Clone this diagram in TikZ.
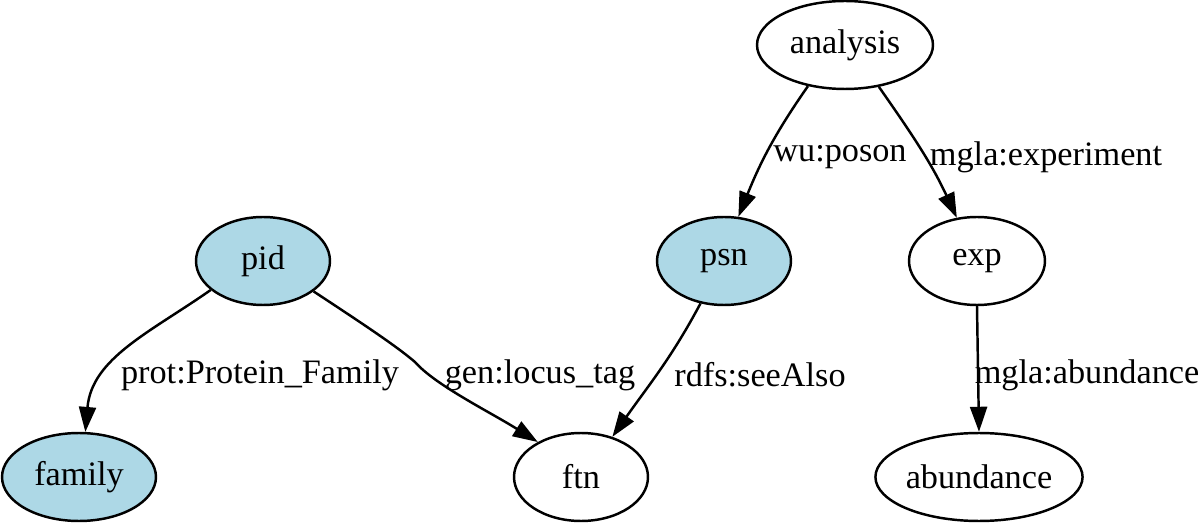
\documentclass[tikz,border=0pt]{standalone}
\usepackage{fontspec}
\setmainfont{Liberation Serif}
\usetikzlibrary{shapes.geometric,arrows.meta}
\definecolor{lightblue}{RGB}{173,216,230}
\begin{document}
\begin{tikzpicture}[x=0.02cm,y=-0.02cm,
  font=\fontsize{19.5}{23}\selectfont,
  res/.style={ellipse,draw,line width=1.4pt,inner sep=0pt,minimum height=1.76cm},
  blue/.style={res,fill=lightblue},
  lbl/.style={inner sep=0pt},
  edge/.style={line width=1.4pt,-{Triangle[length=0.5cm,width=0.34cm]}}]
\useasboundingbox (0,0) rectangle (1200,523);
% nodes
\node[res,minimum width=3.52cm] (analysis) at (845,45) {analysis};
\node[blue,minimum width=2.68cm] (pid) at (263,261) {pid};
\node[blue,minimum width=2.68cm] (psn) at (724,261) {psn};
\node[res,minimum width=2.72cm] (exp) at (977,261) {exp};
\node[blue,minimum width=3.08cm] (family) at (79,477) {family};
\node[res,minimum width=2.68cm] (ftn) at (581,477) {ftn};
\node[res,minimum width=4.12cm] (abundance) at (979,477) {abundance};
% edges
\draw[edge] (analysis.228) to[out=-125,in=68] (psn.72);
\draw[edge] (analysis.-51) to[out=-55,in=115] (exp.115);
\draw[edge] (pid.209) to[out=-145,in=85] (family.82);
\draw[edge] (pid.-31) .. controls (360,322) and (395,345) .. (415,362)
  .. controls (435,385) and (490,412) .. (ftn.141);
\draw[edge] (psn.241) to[out=-118,in=55] (ftn.52);
\draw[edge] (exp.south) -- (abundance.north);
% labels
\node[lbl] (lposon) at (840,157) {wu:poson};
\node[lbl] (lexperiment) at (1046,157) {mgla:experiment};
\node[lbl] (lfamily) at (260,375) {prot:Protein\_Family};
\node[lbl] (llocus) at (540,375) {gen:locus\_tag};
\node[lbl] (lsee) at (760,375) {rdfs:seeAlso};
\node[lbl] (labundance) at (1087,375) {mgla:abundance};
\end{tikzpicture}
\end{document}
